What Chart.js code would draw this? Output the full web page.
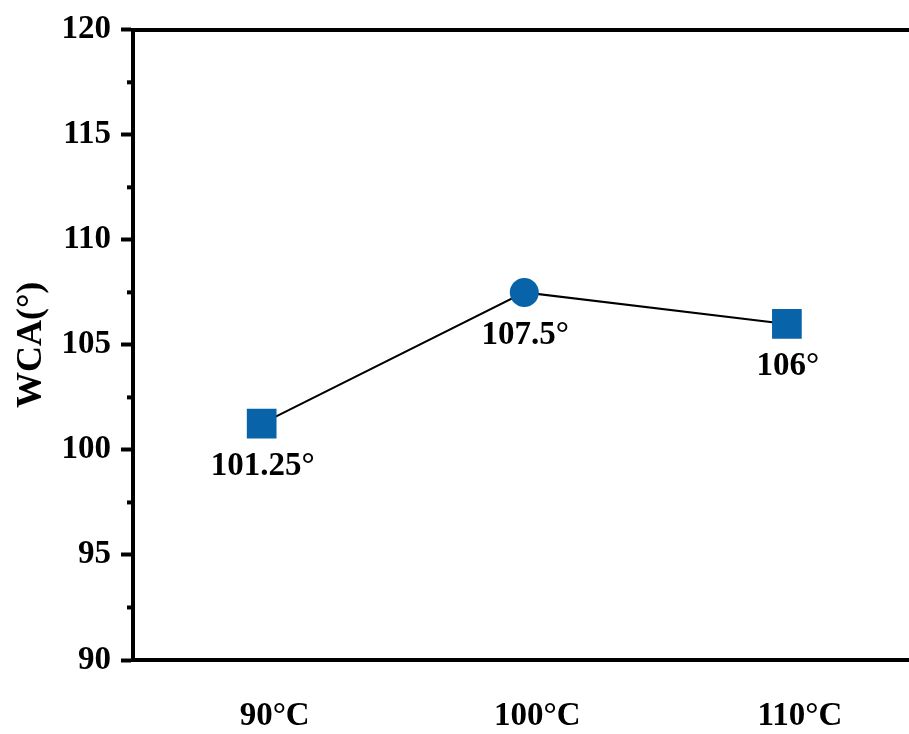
<!DOCTYPE html>
<html>
<head>
<meta charset="utf-8">
<title>WCA vs temperature</title>
<script src="https://cdn.jsdelivr.net/npm/chart.js@4.4.1/dist/chart.umd.min.js"></script>
<style>
  html, body { margin: 0; padding: 0; background: #ffffff; }
  #wrap { width: 909px; height: 734px; }
</style>
</head>
<body>
<div id="wrap"><canvas id="c" width="909" height="734"></canvas></div>
<script>
// Water contact angle measured at three curing temperatures
const categories = ['90°C', '100°C', '110°C'];
const wca = [101.25, 107.5, 106];
const markerStyles = ['rect', 'circle', 'rect'];
const yTicks = [90, 95, 100, 105, 110, 115, 120];

const FONT = 'Liberation Serif, "Times New Roman", serif';
const BLUE = '#0863a9';

// Short minor ticks halfway between the labelled y ticks
const minorTicks = {
  id: 'minorTicks',
  afterDraw(chart) {
    const y = chart.scales.y;
    const ctx = chart.ctx;
    const x0 = y.right;
    ctx.save();
    ctx.strokeStyle = '#000';
    ctx.lineWidth = 4;
    for (let i = 0; i < yTicks.length - 1; i++) {
      const v = (yTicks[i] + yTicks[i + 1]) / 2;
      const py = y.getPixelForValue(v);
      ctx.beginPath();
      ctx.moveTo(x0 - 6, py);
      ctx.lineTo(x0, py);
      ctx.stroke();
    }
    ctx.restore();
  }
};

// Value labels under each marker
const valueLabels = {
  id: 'valueLabels',
  afterDatasetsDraw(chart) {
    const ctx = chart.ctx;
    const meta = chart.getDatasetMeta(0);
    ctx.save();
    ctx.font = 'bold 33px ' + FONT;
    ctx.fillStyle = '#000';
    ctx.textAlign = 'center';
    ctx.textBaseline = 'middle';
    meta.data.forEach((pt, i) => {
      ctx.fillText(wca[i] + '°', pt.x + 1, pt.y + 43);
    });
    ctx.restore();
  }
};

new Chart(document.getElementById('c'), {
  type: 'line',
  data: {
    datasets: [{
      data: wca.map((v, i) => ({ x: i, y: v })),
      borderColor: '#000',
      borderWidth: 2,
      tension: 0,
      fill: false,
      pointStyle: markerStyles,
      pointRadius: [21, 14.5, 21],
      pointBackgroundColor: BLUE,
      pointBorderColor: BLUE,
      pointBorderWidth: 0
    }]
  },
  options: {
    responsive: false,
    animation: false,
    devicePixelRatio: 1,
    events: [],
    layout: { padding: 0, autoPadding: false },
    plugins: {
      legend: { display: false },
      tooltip: { enabled: false }
    },
    scales: {
      x: {
        type: 'linear',
        position: 'bottom',
        min: -0.49,
        max: 2.465,
        afterBuildTicks(scale) {
          scale.ticks = categories.map((c, i) => ({ value: i }));
        },
        afterFit(scale) { scale.height = 74; },
        grid: { display: false, drawTicks: false },
        border: { display: true, color: '#000', width: 4 },
        ticks: {
          color: '#000',
          font: { family: FONT, size: 33, weight: 'bold' },
          padding: 37,
          labelOffset: 13,
          maxRotation: 0,
          callback: (v) => categories[v] ?? ''
        }
      },
      xTop: {
        type: 'linear',
        position: 'top',
        min: -0.49,
        max: 2.465,
        afterFit(scale) { scale.height = 27; },
        grid: { display: false, drawTicks: false },
        border: { display: true, color: '#000', width: 4 },
        ticks: { display: false }
      },
      y: {
        type: 'linear',
        position: 'left',
        min: 90,
        max: 120,
        afterBuildTicks(scale) {
          scale.ticks = yTicks.map(v => ({ value: v }));
        },
        afterFit(scale) { scale.width = 133; },
        grid: {
          display: true,
          drawOnChartArea: false,
          drawTicks: true,
          tickLength: 12,
          tickWidth: 4,
          tickColor: '#000'
        },
        border: { display: true, color: '#000', width: 4 },
        ticks: {
          color: '#000',
          font: { family: FONT, size: 33, weight: 'bold' },
          padding: 10
        },
        title: {
          display: true,
          text: 'WCA(°)',
          color: '#000',
          font: { family: FONT, size: 36, weight: 'bold' },
          padding: { top: 10, bottom: 0 }
        }
      }
    }
  },
  plugins: [minorTicks, valueLabels]
});
</script>
</body>
</html>
